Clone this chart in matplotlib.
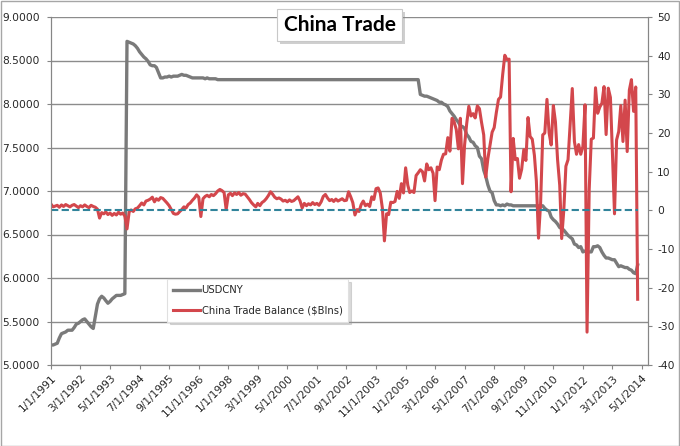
import pandas as pd
import matplotlib
matplotlib.use("Agg")
import matplotlib.pyplot as plt
import matplotlib.patheffects as pe
from matplotlib.patches import Rectangle

plt.rcParams['font.family'] = ['DejaVu Sans']
plt.rcParams['axes.unicode_minus'] = False

# monthly values, one row per year (dates 1/1/1991 .. 3/1/2014)
usdcny = [
    5.23, 5.23, 5.24, 5.25, 5.31, 5.36, 5.37, 5.38, 5.40, 5.40, 5.40, 5.43,  # 1991
    5.47, 5.48, 5.50, 5.52, 5.53, 5.50, 5.47, 5.44, 5.42, 5.56, 5.70, 5.76,  # 1992
    5.79, 5.77, 5.74, 5.71, 5.73, 5.76, 5.78, 5.80, 5.80, 5.80, 5.81, 5.82,  # 1993
    8.72, 8.71, 8.70, 8.69, 8.67, 8.64, 8.60, 8.57, 8.54, 8.52, 8.49, 8.45,  # 1994
    8.44, 8.44, 8.42, 8.36, 8.30, 8.30, 8.31, 8.31, 8.32, 8.31, 8.32, 8.32,  # 1995
    8.32, 8.33, 8.34, 8.33, 8.33, 8.32, 8.31, 8.30, 8.30, 8.30, 8.30, 8.30,  # 1996
    8.30, 8.29, 8.30, 8.29, 8.29, 8.29, 8.29, 8.28, 8.28, 8.28, 8.28, 8.28,  # 1997
    8.28, 8.28, 8.28, 8.28, 8.28, 8.28, 8.28, 8.28, 8.28, 8.28, 8.28, 8.28,  # 1998
    8.28, 8.28, 8.28, 8.28, 8.28, 8.28, 8.28, 8.28, 8.28, 8.28, 8.28, 8.28,  # 1999
    8.28, 8.28, 8.28, 8.28, 8.28, 8.28, 8.28, 8.28, 8.28, 8.28, 8.28, 8.28,  # 2000
    8.28, 8.28, 8.28, 8.28, 8.28, 8.28, 8.28, 8.28, 8.28, 8.28, 8.28, 8.28,  # 2001
    8.28, 8.28, 8.28, 8.28, 8.28, 8.28, 8.28, 8.28, 8.28, 8.28, 8.28, 8.28,  # 2002
    8.28, 8.28, 8.28, 8.28, 8.28, 8.28, 8.28, 8.28, 8.28, 8.28, 8.28, 8.28,  # 2003
    8.28, 8.28, 8.28, 8.28, 8.28, 8.28, 8.28, 8.28, 8.28, 8.28, 8.28, 8.28,  # 2004
    8.28, 8.28, 8.28, 8.28, 8.28, 8.28, 8.28, 8.11, 8.10, 8.09, 8.09, 8.08,  # 2005
    8.07, 8.06, 8.05, 8.04, 8.02, 8.02, 8.00, 7.99, 7.97, 7.92, 7.89, 7.86,  # 2006
    7.82, 7.79, 7.75, 7.74, 7.72, 7.65, 7.62, 7.57, 7.56, 7.52, 7.50, 7.40,  # 2007
    7.37, 7.24, 7.17, 7.07, 7.00, 6.98, 6.89, 6.84, 6.84, 6.83, 6.84, 6.83,  # 2008
    6.85, 6.84, 6.84, 6.83, 6.83, 6.83, 6.83, 6.83, 6.83, 6.83, 6.83, 6.83,  # 2009
    6.83, 6.83, 6.83, 6.83, 6.83, 6.83, 6.80, 6.78, 6.77, 6.70, 6.67, 6.65,  # 2010
    6.62, 6.58, 6.57, 6.55, 6.52, 6.49, 6.47, 6.45, 6.39, 6.38, 6.35, 6.36,  # 2011
    6.30, 6.31, 6.30, 6.30, 6.30, 6.36, 6.36, 6.37, 6.35, 6.30, 6.26, 6.23,  # 2012
    6.23, 6.22, 6.21, 6.21, 6.17, 6.13, 6.14, 6.13, 6.12, 6.12, 6.10, 6.09,  # 2013
    6.06, 6.05, 6.15,                                                        # 2014
]

trade_balance = [
    1.6, 0.9, 1.1, 1.3, 0.8, 1.4, 1.0, 1.5, 1.2, 0.9, 1.3, 1.5,             # 1991
    1.1, 0.7, 1.2, 0.9, 1.4, 1.0, 0.7, 1.3, 1.0, 0.8, 0.3, -2.0,            # 1992
    -0.6, -0.9, -0.4, -1.1, -0.7, -1.3, -0.8, -1.2, -0.5, -1.0, -0.7, -1.5,  # 1993
    -4.8, -0.4, 0.1, -0.3, 0.4, 0.6, 1.2, 1.9, 1.4, 2.4, 2.6, 2.9,          # 1994
    3.4, 2.2, 3.0, 2.6, 3.3, 3.1, 2.5, 1.9, 1.2, 0.2, -0.8, -1.0,           # 1995
    -0.9, -0.3, 0.2, 0.9, 0.6, 1.5, 1.9, 2.6, 3.2, 4.0, 3.4, -1.6,          # 1996
    3.0, 3.6, 3.9, 3.5, 4.1, 3.8, 4.3, 5.0, 5.4, 5.1, 4.6, 0.2,             # 1997
    4.0, 4.4, 3.8, 4.5, 4.1, 4.6, 3.9, 4.3, 4.2, 3.5, 2.8, 2.0,             # 1998
    1.4, 0.9, 1.8, 1.2, 2.0, 2.4, 3.0, 3.8, 4.8, 4.2, 3.4, 3.0,             # 1999
    3.2, 2.9, 2.4, 2.6, 2.2, 2.7, 2.3, 2.5, 3.0, 3.5, 2.4, 0.6,             # 2000
    1.8, 1.2, 1.7, 1.4, 2.0, 1.5, 1.8, 1.3, 2.2, 3.6, 4.1, 3.2,             # 2001
    2.5, 2.8, 2.3, 2.9, 2.4, 2.7, 3.0, 2.5, 2.6, 4.8, 3.5, 2.0,             # 2002
    -1.2, 0.2, -0.3, 1.5, 2.4, 1.2, 1.6, 1.0, 3.5, 2.8, 5.6, 5.8,           # 2003
    4.5, 0.5, -7.9, -0.9, -1.1, 2.1, 2.0, 2.3, 4.9, 3.1, 6.9, 4.5,          # 2004
    11.0, 6.5, 4.6, 5.0, 4.6, 9.0, 9.7, 10.5, 10.0, 7.6, 12.0, 10.5,        # 2005
    11.0, 9.6, 2.5, 11.2, 10.5, 13.0, 14.5, 14.6, 18.8, 15.3, 23.8, 22.9,   # 2006
    20.9, 15.9, 23.8, 6.9, 16.9, 22.5, 26.9, 24.4, 25.0, 23.9, 27.0, 26.3,  # 2007
    22.7, 19.5, 8.6, 13.4, 16.7, 20.2, 21.4, 25.3, 28.7, 29.3, 35.2, 40.1,  # 2008
    39.0, 39.1, 4.8, 18.6, 13.1, 13.4, 8.3, 10.6, 15.7, 12.9, 24.0, 19.1,   # 2009
    18.4, 14.2, 7.6, -7.2, 1.7, 19.5, 20.0, 28.7, 20.0, 16.9, 27.1, 22.9,   # 2010
    13.1, 6.5, -7.3, 0.1, 11.4, 13.1, 22.3, 31.5, 17.8, 14.5, 17.0, 14.5,   # 2011
    16.5, 27.3, -31.5, 5.4, 18.4, 18.7, 31.7, 25.1, 26.7, 27.7, 32.0, 19.6,  # 2012
    31.6, 29.2, 15.3, -0.9, 18.2, 20.4, 27.1, 17.8, 28.5, 15.2, 31.1, 33.8,  # 2013
    25.6, 31.9, -23.0,                                                       # 2014
]

dates = pd.date_range("1991-01-01", periods=len(usdcny), freq="MS")
tick_dates = pd.date_range("1991-01-01", "2014-05-01", freq="14MS")
tick_labels = [f"{d.month}/{d.day}/{d.year}" for d in tick_dates]

grey = "#7a7a7a"
red = "#d3474c"
teal = "#31849b"
axis_col = "#868686"
text_col = "#262626"

fig = plt.figure(figsize=(6.8, 4.46), dpi=100)
ax = fig.add_axes([51 / 680, 1 - 365 / 446, 597 / 680, 348 / 446])
ax2 = ax.twinx()

ax.plot(dates, usdcny, color=grey, lw=2.4, label="USDCNY")
ax2.plot(dates, trade_balance, color=red, lw=2.2, label="China Trade Balance ($Blns)")
ax2.hlines(0, dates[0], dates[-1], colors=teal, lw=1.5, linestyles=(0, (3.5, 1.6)))

ax.set_ylim(5, 9)
ax.set_yticks([5.0, 5.5, 6.0, 6.5, 7.0, 7.5, 8.0, 8.5, 9.0])
ax.yaxis.set_major_formatter(matplotlib.ticker.FormatStrFormatter("%.4f"))
ax2.set_ylim(-40, 50)
ax2.set_yticks(range(-40, 51, 10))
ax.set_xlim(pd.Timestamp("1991-01-01"), pd.Timestamp("2014-07-28"))
ax.set_xticks(tick_dates)
ax.set_xticklabels(tick_labels, rotation=45, ha="right", rotation_mode="anchor")

ax.grid(axis="y", color="#8c8c8c", lw=1)
ax.set_axisbelow(True)
for a in (ax, ax2):
    for s in a.spines.values():
        s.set_color(axis_col)
    a.spines["top"].set_visible(False)
ax.tick_params(axis="y", length=3, color=axis_col, pad=5, labelsize=7.7, labelcolor=text_col)
ax.tick_params(axis="x", length=3, color=axis_col, pad=3, labelsize=7.7, labelcolor=text_col)
ax2.tick_params(axis="y", length=3, color=axis_col, pad=3.5, labelsize=7.7, labelcolor=text_col)

h1, l1 = ax.get_legend_handles_labels()
h2, l2 = ax2.get_legend_handles_labels()
leg = fig.legend(h1 + h2, l1 + l2, loc="upper left",
                 bbox_to_anchor=(167 / 680, 1 - 279 / 446), borderaxespad=0,
                 fontsize=7.2, handlelength=2.7, handletextpad=0.15,
                 labelspacing=1.05, borderpad=0.6, fancybox=False,
                 shadow={"color": "#999999", "alpha": 0.35})
leg.get_frame().set_edgecolor("#e0e0e0")
leg.get_frame().set_linewidth(0.8)
for t in leg.get_texts():
    t.set_color(text_col)

title = fig.text(339.5 / 680, 1 - 25 / 446, "China Trade", ha="center", va="center",
                 fontsize=15, fontweight="bold", family=["Lato", "DejaVu Sans"],
                 color="black",
                 bbox=dict(boxstyle="square,pad=0.3", fc="white", ec="#c8c8c8", lw=0.8))
title.get_bbox_patch().set_path_effects(
    [pe.withSimplePatchShadow(offset=(2, -2), shadow_rgbFace="#888888", alpha=0.4)])

fig.add_artist(Rectangle((0.5 / 680, 0.5 / 446), 678.5 / 680, 444.5 / 446,
                         transform=fig.transFigure, fill=False, ec="#a6a6a6", lw=1))

fig.savefig("out.png", dpi=100)
plt.close(fig)
